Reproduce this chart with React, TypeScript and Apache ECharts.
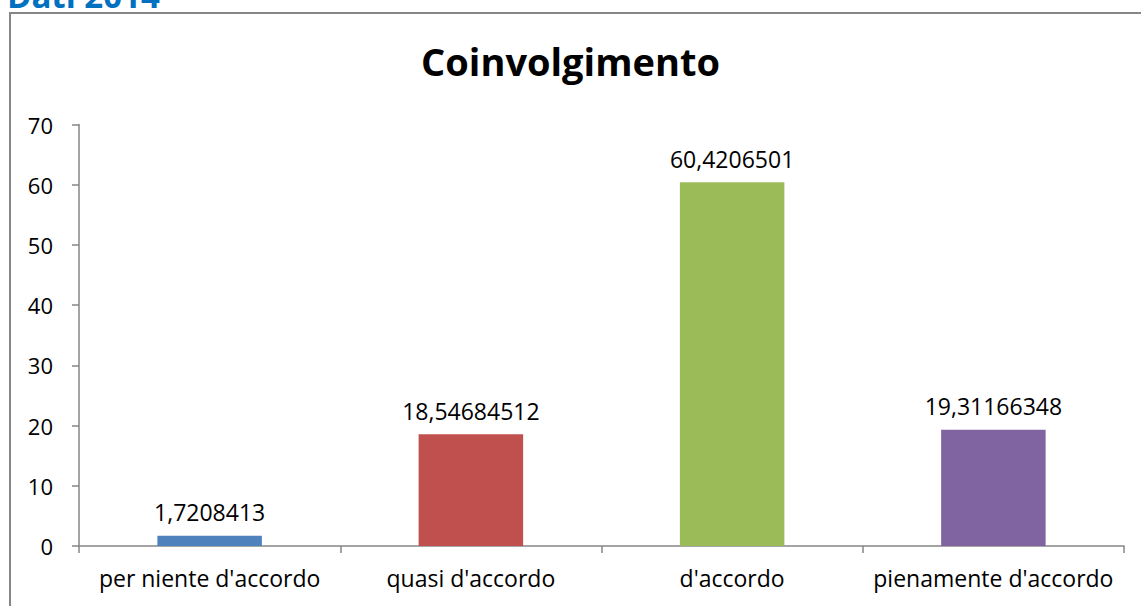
import React, { useEffect, useRef } from "react";
import * as echarts from "echarts";

const categories = ["per niente d'accordo", "quasi d'accordo", "d'accordo", "pienamente d'accordo"];
const values = [1.7208413, 18.54684512, 60.4206501, 19.31166348];
const labels = ["1,7208413", "18,54684512", "60,4206501", "19,31166348"];
const colors = ["#4F81BD", "#C0504D", "#9BBB59", "#8064A2"];
const title = "Coinvolgimento";
const header = "Dati 2014";

export default function App() {
  const ref = useRef<HTMLDivElement>(null);
  useEffect(() => {
    const chart = echarts.init(ref.current!, undefined, { renderer: "svg" });
    const font = "'Open Sans', Lato, sans-serif";
    chart.setOption({
      animation: false,
      textStyle: { fontFamily: font },
      graphic: [
        {
          type: "rect",
          shape: { x: 10, y: 13, width: 1200, height: 700 },
          style: { fill: "none", stroke: "#868686", lineWidth: 2 },
          z: -1,
        },
        {
          type: "text",
          x: 7,
          y: 12,
          style: {
            text: header,
            fill: "#0070C0",
            font: `bold 33px ${font}`,
            verticalAlign: "bottom",
          },
        },
      ],
      title: {
        text: title,
        left: "center",
        top: 37,
        textStyle: { fontSize: 38, fontWeight: "bold", color: "#000", fontFamily: font },
      },
      grid: { left: 79, right: 17, top: 124.5, bottom: 60 },
      xAxis: {
        type: "category",
        data: categories,
        axisLine: { lineStyle: { color: "#868686", width: 1.5 } },
        axisTick: { show: true, length: 7, lineStyle: { color: "#868686", width: 1.5 } },
        axisLabel: { color: "#000", fontSize: 23, margin: 20, interval: 0, fontFamily: font },
      },
      yAxis: {
        type: "value",
        min: 0,
        max: 70,
        interval: 10,
        splitLine: { show: false },
        axisLine: { show: true, lineStyle: { color: "#868686", width: 1.5 } },
        axisTick: { show: true, length: 7, lineStyle: { color: "#868686", width: 1.5 } },
        axisLabel: { color: "#000", fontSize: 22, margin: 26, fontFamily: font },
      },
      series: [
        {
          type: "bar",
          barWidth: "40%",
          data: values.map((v, i) => ({ value: v, itemStyle: { color: colors[i] } })),
          label: {
            show: true,
            position: "top",
            distance: 12,
            color: "#000",
            fontSize: 23,
            fontFamily: font,
            formatter: (p: any) => labels[p.dataIndex],
          },
        },
      ],
    });
    return () => chart.dispose();
  }, []);
  return (
    <div
      ref={ref}
      style={{ position: "fixed", left: 0, top: 0, width: 1141, height: 606, background: "#fff" }}
    />
  );
}
